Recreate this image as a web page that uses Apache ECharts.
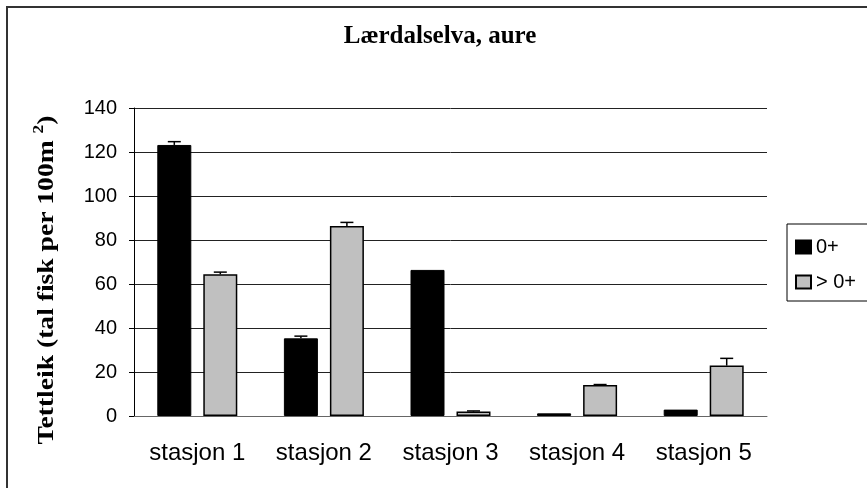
<!DOCTYPE html>
<html>
<head>
<meta charset="utf-8">
<script src="https://cdn.jsdelivr.net/npm/echarts@6/dist/echarts.min.js"></script>
<style>html,body{margin:0;padding:0;background:#fff}#c{width:867px;height:488px}</style>
</head>
<body>
<div id="c"></div>
<script>
const categories = ['stasjon 1', 'stasjon 2', 'stasjon 3', 'stasjon 4', 'stasjon 5'];
const seriesNames = ['0+', '> 0+'];
const youngValues = [123.2, 35.3, 66.4, 1.2, 2.9];
const olderValues = [64.4, 86.4, 2.0, 14.1, 22.9];
const youngErrors = [1.5, 1.0, 0, 0, 0];
const olderErrors = [1.0, 1.6, 0.3, 0.2, 3.3];
const yTicks = [0, 20, 40, 60, 80, 100, 120, 140];

const BAR_W = 34, GAP = 12;
const OFF = (BAR_W + GAP) / 2;

function errSeries(vals, errs, sign) {
  return {
    type: 'custom',
    silent: true,
    z: 5,
    data: vals.map((v, i) => [i, v, errs[i]]),
    renderItem: function (params, api) {
      const e = api.value(2);
      if (!e) return null;
      const p0 = api.coord([api.value(0), api.value(1)]);
      const p1 = api.coord([api.value(0), api.value(1) + e]);
      const x = p0[0] + sign * OFF;
      const cap = 6.5;
      const st = { stroke: '#000', lineWidth: 1.5 };
      return {
        type: 'group',
        children: [
          { type: 'line', shape: { x1: x, y1: p0[1], x2: x, y2: p1[1] }, style: st },
          { type: 'line', shape: { x1: x - cap, y1: p1[1], x2: x + cap, y2: p1[1] }, style: st }
        ]
      };
    }
  };
}

const chart = echarts.init(document.getElementById('c'), null, { renderer: 'canvas' });
chart.setOption({
  animation: false,
  backgroundColor: '#fff',
  grid: { left: 134, right: 100, top: 108, bottom: 72 },
  legend: {
    data: seriesNames,
    orient: 'vertical',
    left: 787, top: 224,
    padding: [13, 60, 9, 8],
    itemGap: 15,
    itemWidth: 15, itemHeight: 13,
    icon: 'rect',
    borderColor: '#000', borderWidth: 1,
    textStyle: { fontFamily: 'Liberation Sans, Arial', fontSize: 20, color: '#000', lineHeight: 20 }
  },
  xAxis: {
    type: 'category',
    data: categories,
    axisLine: { lineStyle: { color: '#666', width: 1 } },
    axisTick: { length: 5, lineStyle: { color: '#000' } },
    axisLabel: { fontFamily: 'Liberation Sans, Arial', fontSize: 24, color: '#000', margin: 25 }
  },
  yAxis: {
    type: 'value',
    min: yTicks[0], max: yTicks[yTicks.length - 1], interval: 20,
    axisLine: { show: true, lineStyle: { color: '#000', width: 1 } },
    axisTick: { show: true, length: 5, lineStyle: { color: '#000' } },
    axisLabel: { fontFamily: 'Liberation Sans, Arial', fontSize: 20, color: '#000', margin: 17 },
    splitLine: { lineStyle: { color: '#222', width: 1 } }
  },
  series: [
    {
      name: seriesNames[0], type: 'bar', data: youngValues,
      barWidth: BAR_W, barGap: (GAP / BAR_W * 100) + '%',
      itemStyle: { color: '#000', borderColor: '#000', borderWidth: 1 }
    },
    {
      name: seriesNames[1], type: 'bar', data: olderValues,
      barWidth: BAR_W,
      itemStyle: { color: '#c0c0c0', borderColor: '#000', borderWidth: 1.5 }
    },
    errSeries(youngValues, youngErrors, -1),
    errSeries(olderValues, olderErrors, 1)
  ],
  graphic: [
    { type: 'rect', shape: { x: 7, y: 7, width: 880, height: 500 }, style: { fill: 'none', stroke: '#333', lineWidth: 2 }, silent: true },
    { type: 'text', x: 440, y: 37, style: { text: 'Lærdalselva, aure', font: 'bold 25px "Liberation Serif", "Times New Roman", serif', fill: '#000', align: 'center', verticalAlign: 'middle' } },
    {
      type: 'text', x: 47, y: 280, rotation: Math.PI / 2, scaleX: 1.15,
      style: {
        text: '{a|Tettleik (tal fisk per 100m }{s|2}{a|)}',
        align: 'center', verticalAlign: 'middle',
        rich: {
          a: { font: 'bold 24px "Liberation Serif", "Times New Roman", serif', fill: '#000' },
          s: { font: 'bold 15px "Liberation Serif", "Times New Roman", serif', fill: '#000', padding: [0, 0, 16, 0] }
        }
      }
    }
  ]
});
</script>
</body>
</html>
